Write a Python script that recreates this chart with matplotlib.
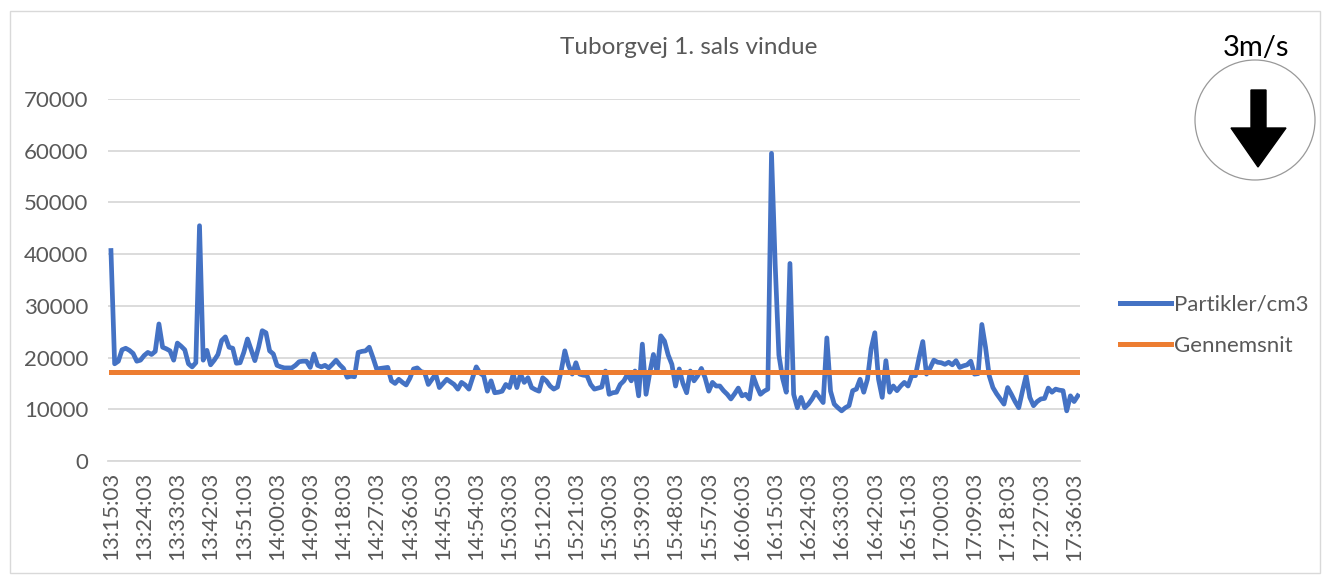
"""
Particle count at Tuborgvej, 1st floor window, with the average as a flat line.
"""
import matplotlib.pyplot as plt
from matplotlib.lines import Line2D
from matplotlib.patches import Circle, Polygon, Rectangle
from datetime import datetime, timedelta

title = 'Tuborgvej 1. sals vindue'
series_names = ['Partikler/cm3', 'Gennemsnit']
wind_label = '3m/s'

start_time = '13:15:03'
tick_every = 9

# one reading per minute
particles = [
    40700, 18800, 19300, 21500, 21800, 21400, 20800, 19300, 19500, 20400,
    21000, 20600, 21200, 26500, 22000, 21700, 21300, 19500, 22800, 22200,
    21500, 18800, 18200, 19000, 45500, 19500, 21400, 18600, 19500, 20600,
    23300, 24000, 22000, 21800, 18900, 19000, 21000, 23600, 21500, 19400,
    22000, 25200, 24800, 21300, 20700, 18500, 18200, 18000, 18000, 18000,
    18500, 19200, 19300, 19300, 18100, 20700, 18500, 18200, 18500, 18000,
    18700, 19500, 18600, 17900, 16200, 16400, 16300, 21000, 21200, 21300,
    22000, 20000, 17800, 17900, 18000, 18100, 15500, 15000, 15800, 15200,
    14700, 16000, 17800, 18000, 17300, 17100, 14800, 15800, 16800, 14200,
    15000, 15800, 15300, 14800, 13900, 15200, 14700, 13900, 16100, 18200,
    17000, 16500, 13500, 15500, 13200, 13300, 13500, 14800, 14200, 16800,
    14200, 16800, 15200, 16100, 14200, 13800, 13500, 16100, 15500, 14500,
    13900, 14300, 17400, 21300, 18500, 16800, 19000, 16800, 16600, 16500,
    14800, 13900, 14100, 14300, 17400, 12900, 13200, 13300, 14800, 15500,
    16800, 15500, 17400, 12600, 22600, 12900, 17000, 20600, 17100, 24200,
    23200, 20500, 18700, 14500, 17800, 15000, 13200, 17400, 15500, 16500,
    17900, 16100, 13500, 15200, 14500, 14500, 13600, 12900, 12000, 13000,
    14100, 12600, 12900, 12000, 16500, 14500, 12900, 13500, 13900, 59500,
    38000, 20500, 16000, 13300, 38200, 12900, 10300, 12300, 10300, 11000,
    12000, 13300, 12300, 11300, 23800, 13500, 11000, 10300, 9700, 10300,
    10700, 13600, 13900, 15800, 13300, 15800, 21700, 24800, 15800, 12300,
    19400, 13300, 14500, 13600, 14500, 15200, 14500, 16500, 16500, 20000,
    23100, 16800, 18000, 19500, 19100, 19000, 18700, 19100, 18600, 19400,
    18100, 18400, 18600, 19300, 16800, 16900, 26400, 22000, 16500, 14200,
    13000, 12000, 11000, 14200, 12900, 11500, 10300, 13500, 16500, 12300,
    10700, 11500, 12000, 12100, 14100, 13300, 13900, 13700, 13600, 9700,
    12600, 11500, 12600,
]
average = 17300

y_ticks = [0, 10000, 20000, 30000, 40000, 50000, 60000, 70000]

blue = '#4472C4'
orange = '#ED7D31'
grey_text = '#595959'
grid_col = '#d9d9d9'

plt.rcParams['font.family'] = ['Lato', 'DejaVu Sans']

n = len(particles)
t0 = datetime.strptime(start_time, '%H:%M:%S')
times = [(t0 + timedelta(minutes=i)).strftime('%H:%M:%S') for i in range(n)]
x = list(range(n))

fig = plt.figure(figsize=(13.29, 5.75), dpi=100)
ax = fig.add_axes([108 / 1329, 1 - 461 / 575, 972 / 1329, 362 / 575])

ax.plot(x, particles, color=blue, lw=3.4, solid_joinstyle='round', zorder=3)
ax.plot(x, [average] * n, color=orange, lw=3.6, zorder=4)

ax.set_xlim(-0.8, 262.6)
ax.set_ylim(0, 70000)
ax.set_yticks(y_ticks)
ax.set_yticklabels([str(v) for v in y_ticks])
ax.set_xticks(x[::tick_every])
ax.set_xticklabels(times[::tick_every], rotation=90)
ax.tick_params(axis='y', length=0, pad=14, labelsize=16, labelcolor=grey_text)
ax.tick_params(axis='x', length=0, pad=8, labelsize=16, labelcolor=grey_text)
ax.grid(axis='y', color=grid_col, lw=1.3)
ax.set_axisbelow(True)
for side in ['top', 'right', 'left']:
    ax.spines[side].set_visible(False)
ax.spines['bottom'].set_color(grid_col)
ax.spines['bottom'].set_linewidth(1.3)

fig.text(689 / 1329, 1 - 48 / 575, title, ha='center', va='center',
         fontsize=17.5, color=grey_text)

handles = [Line2D([], [], color=blue, lw=3.6), Line2D([], [], color=orange, lw=3.6)]
fig.legend(handles, series_names, loc='center left',
           bbox_to_anchor=(1120 / 1329, 1 - 325 / 575), frameon=False,
           fontsize=16, handlelength=2.3, handletextpad=0.15,
           labelspacing=0.95, borderpad=0, borderaxespad=0,
           labelcolor=grey_text)

# chart frame
fig.patches.append(Rectangle((10 / 1329, 2 / 575), 1310 / 1329, 562 / 575,
                             transform=fig.transFigure, fill=False,
                             edgecolor=grid_col, lw=1))

# wind icon: circle with a down arrow
icon = fig.add_axes([1180 / 1329, 1 - 190 / 575, 150 / 1329, 170 / 575])
icon.set_xlim(1180, 1330)
icon.set_ylim(190, 20)
icon.axis('off')
icon.add_patch(Circle((1255, 120), 60, fill=True, facecolor='white',
                      edgecolor='#999999', lw=0.9))
icon.add_patch(Polygon([(1251, 90), (1266, 90), (1266, 128), (1286, 128),
                        (1258, 167), (1231, 128), (1251, 128)],
                       closed=True, facecolor='black', edgecolor='black'))
icon.text(1256, 48, wind_label, ha='center', va='center', fontsize=21,
          color='black')

fig.savefig('out.png', dpi=100)
